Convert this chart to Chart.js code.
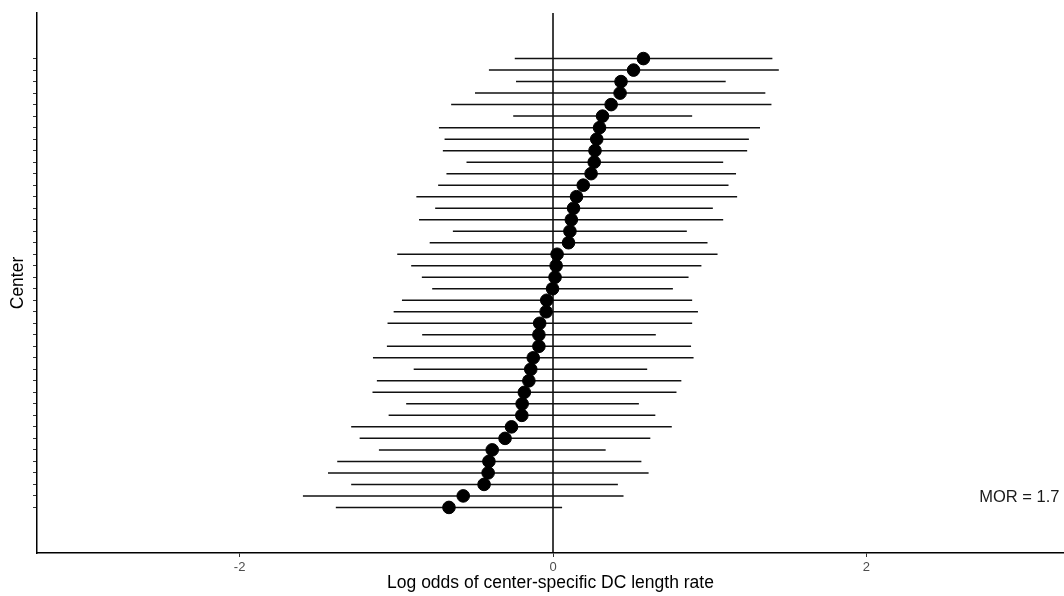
<!DOCTYPE html>
<html>
<head>
<meta charset="utf-8">
<script src="https://cdn.jsdelivr.net/npm/chart.js@4/dist/chart.umd.min.js"></script>
<style>
  html, body { margin: 0; padding: 0; background: #fff; }
  canvas { display: block; }
</style>
</head>
<body>
<canvas id="forest" width="1064" height="596"></canvas>
<script>
// Centres ordonnés (1 = en haut)
const centers = Array.from({ length: 40 }, (_, i) => i + 1);

// Estimations (log odds) et intervalles
const estimate = [0.577, 0.514, 0.434, 0.428, 0.371, 0.316, 0.297, 0.279, 0.268, 0.263,
  0.243, 0.193, 0.150, 0.131, 0.117, 0.108, 0.099, 0.026, 0.020, 0.013,
  -0.003, -0.040, -0.044, -0.085, -0.090, -0.090, -0.126, -0.142, -0.154, -0.183,
  -0.197, -0.199, -0.265, -0.306, -0.388, -0.409, -0.414, -0.440, -0.573, -0.664];
const lower = [-0.244, -0.409, -0.236, -0.498, -0.650, -0.254, -0.728, -0.692, -0.703, -0.552,
  -0.680, -0.733, -0.872, -0.752, -0.855, -0.639, -0.787, -0.994, -0.905, -0.837,
  -0.771, -0.964, -1.017, -1.056, -0.835, -1.060, -1.149, -0.889, -1.124, -1.152,
  -0.937, -1.049, -1.288, -1.234, -1.111, -1.377, -1.436, -1.288, -1.596, -1.386];
const upper = [1.400, 1.441, 1.102, 1.355, 1.394, 0.888, 1.321, 1.250, 1.239, 1.086,
  1.168, 1.120, 1.175, 1.020, 1.086, 0.854, 0.986, 1.050, 0.947, 0.865,
  0.765, 0.888, 0.925, 0.888, 0.656, 0.881, 0.897, 0.601, 0.819, 0.788,
  0.548, 0.653, 0.758, 0.621, 0.336, 0.564, 0.610, 0.414, 0.450, 0.058];

const xTicks = [-2, 0, 2];
const morLabel = "MOR = 1.7";

const FONT = "'Liberation Sans', Arial, sans-serif";

// Barres d'erreur + ligne verticale à 0
const errorBars = {
  id: "errorBars",
  beforeDatasetsDraw(chart) {
    const { ctx, chartArea, scales: { x, y } } = chart;
    ctx.save();
    ctx.strokeStyle = "#000";
    ctx.lineWidth = 1.5;
    // ligne de référence
    const x0 = x.getPixelForValue(0);
    ctx.beginPath();
    ctx.moveTo(x0, chartArea.top);
    ctx.lineTo(x0, chartArea.bottom);
    ctx.stroke();
    // intervalles
    ctx.strokeStyle = "#111";
    centers.forEach((c, i) => {
      const py = y.getPixelForValue(c);
      ctx.beginPath();
      ctx.moveTo(x.getPixelForValue(lower[i]), py);
      ctx.lineTo(x.getPixelForValue(upper[i]), py);
      ctx.stroke();
    });
    ctx.restore();
  },
  afterDraw(chart) {
    const { ctx, scales: { x, y } } = chart;
    ctx.save();
    ctx.fillStyle = "#1a1a1a";
    ctx.font = "16.5px " + FONT;
    ctx.textAlign = "left";
    ctx.textBaseline = "middle";
    ctx.fillText(morLabel, x.getPixelForValue(2.72), y.getPixelForValue(39.1));
    ctx.restore();
  }
};

new Chart(document.getElementById("forest"), {
  type: "scatter",
  data: {
    datasets: [{
      label: "Centre",
      data: centers.map((c, i) => ({ x: estimate[i], y: c })),
      backgroundColor: "#000",
      borderColor: "#000",
      pointRadius: 6.3,
      pointHoverRadius: 6.3
    }]
  },
  options: {
    responsive: false,
    animation: false,
    layout: { autoPadding: false, padding: { top: 13, right: 0, left: 0, bottom: 0 } },
    plugins: {
      legend: { display: false },
      tooltip: { enabled: false }
    },
    scales: {
      x: {
        type: "linear",
        min: -3.293,
        max: 3.261,
        afterBuildTicks: s => { s.ticks = xTicks.map(v => ({ value: v })); },
        afterFit: s => { s.height = 43; s.paddingLeft = 0; s.paddingRight = 0; },
        grid: { drawOnChartArea: false, drawTicks: true, tickLength: 4, tickColor: "#333", tickWidth: 1 },
        border: { display: true, color: "#000", width: 1.5 },
        ticks: {
          color: "#4d4d4d",
          padding: 3,
          font: { family: FONT, size: 13 }
        },
        title: {
          display: true,
          text: "Log odds of center-specific DC length rate",
          color: "#000",
          padding: { top: 0, bottom: 2 },
          font: { family: FONT, size: 17.5 }
        }
      },
      y: {
        type: "linear",
        reverse: true,
        min: -2.96,
        max: 43.96,
        afterBuildTicks: s => { s.ticks = centers.map(v => ({ value: v })); },
        afterFit: s => { s.width = 37; },
        grid: { drawOnChartArea: false, drawTicks: true, tickLength: 4, tickColor: "#333", tickWidth: 1 },
        border: { display: true, color: "#000", width: 1.5 },
        ticks: { display: false },
        title: {
          display: true,
          text: "Center",
          color: "#000",
          padding: { top: 8, bottom: 0 },
          font: { family: FONT, size: 17.5 }
        }
      }
    }
  },
  plugins: [errorBars]
});
</script>
</body>
</html>
